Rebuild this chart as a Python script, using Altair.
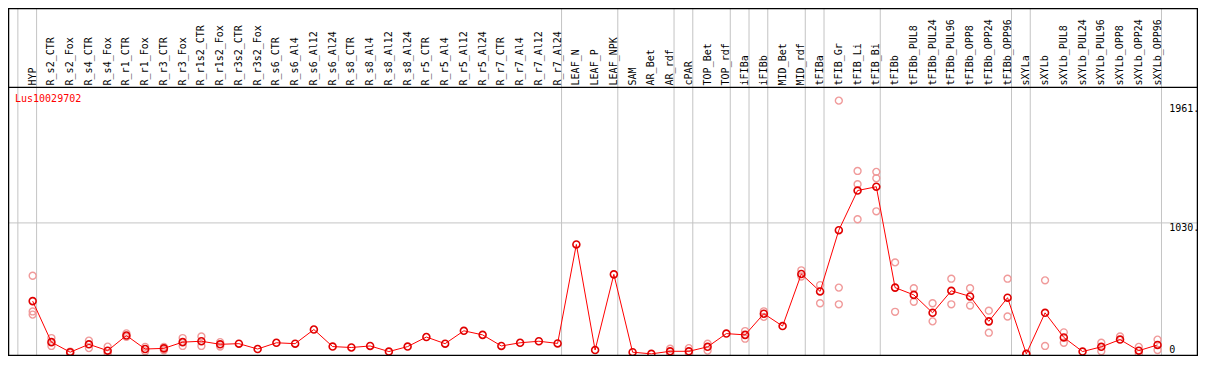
import altair as alt
import pandas as pd

categories = ["HYP", "R_s2_CTR", "R_s2_Fox", "R_s4_CTR", "R_s4_Fox", "R_r1_CTR", "R_r1_Fox",
              "R_r3_CTR", "R_r3_Fox", "R_r1s2_CTR", "R_r1s2_Fox", "R_r3s2_CTR", "R_r3s2_Fox",
              "R_s6_CTR", "R_s6_Al4", "R_s6_Al12", "R_s6_Al24", "R_s8_CTR", "R_s8_Al4",
              "R_s8_Al12", "R_s8_Al24", "R_r5_CTR", "R_r5_Al4", "R_r5_Al12", "R_r5_Al24",
              "R_r7_CTR", "R_r7_Al4", "R_r7_Al12", "R_r7_Al24", "LEAF_N", "LEAF_P", "LEAF_NPK",
              "SAM", "AR_Bet", "AR_rdf", "cPAR", "TOP_Bet", "TOP_rdf", "iFIBa", "iFIBb",
              "MID_Bet", "MID_rdf", "tFIBa", "tFIB_Gr", "tFIB_Li", "tFIB_Bi", "tFIBb",
              "tFIBb_PUL8", "tFIBb_PUL24", "tFIBb_PUL96", "tFIBb_OPP8", "tFIBb_OPP24",
              "tFIBb_OPP96", "sXYLa", "sXYLb", "sXYLb_PUL8", "sXYLb_PUL24", "sXYLb_PUL96",
              "sXYLb_OPP8", "sXYLb_OPP24", "sXYLb_OPP96"]

means = [416, 94, 15, 77, 27, 146, 40, 45, 94, 101, 77, 82, 40, 89, 82, 193, 59, 52, 64,
         20, 59, 134, 82, 183, 151, 64, 89, 101, 84, 861, 32, 626, 15, 2, 22, 22, 57, 161,
         151, 317, 220, 629, 492, 973, 1284, 1314, 522, 465, 324, 497, 453, 257, 443, 2,
         324, 131, 20, 57, 114, 27, 72]

replicates = {
    "HYP": [615, 335, 310], "R_s2_CTR": [126, 64], "R_s2_Fox": [20, 8],
    "R_s4_CTR": [106, 47], "R_s4_Fox": [59, 5], "R_r1_CTR": [163, 135],
    "R_r1_Fox": [57, 22], "R_r3_CTR": [57, 30], "R_r3_Fox": [126, 64],
    "R_r1s2_CTR": [138, 64], "R_r1s2_Fox": [94, 59], "AR_rdf": [42, 2],
    "cPAR": [47, 2], "TOP_Bet": [82, 27], "iFIBa": [181, 121], "iFIBb": [336, 292],
    "MID_rdf": [658, 609], "tFIBa": [542, 399], "tFIB_Gr": [1990, 522, 391],
    "tFIB_Li": [1438, 1334, 1059], "tFIB_Bi": [1431, 1381, 1121], "tFIBb": [720, 332],
    "tFIBb_PUL8": [517, 411], "tFIBb_PUL24": [399, 257], "tFIBb_PUL96": [592, 391],
    "tFIBb_OPP8": [517, 381], "tFIBb_OPP24": [341, 168], "tFIBb_OPP96": [592, 295],
    "sXYLa": [2], "sXYLb": [579, 64], "sXYLb_PUL8": [171, 89], "sXYLb_PUL96": [89, 22],
    "sXYLb_OPP8": [139], "sXYLb_OPP24": [57, 2], "sXYLb_OPP96": [114, 32],
}

separators_after = [0, 1, 29, 32, 35, 36, 38, 39, 40, 42, 43, 46, 53, 54, 61]
tick_values = [1961, 1030, 0]
tick_labels = ["1961.", "1030.", "0"]
gene = "Lus10029702"

# ---- layout ----
W, H = 1190, 348
FONT = "DejaVu Sans Mono"
x_dom = [-0.316, 63.158]
y_dom = [-14.85, 2717.2]
header_px = 84 / 368 * H

xs = alt.Scale(domain=x_dom, nice=False, zero=False)
ys = alt.Scale(domain=y_dom, nice=False, zero=False)

mean_df = pd.DataFrame({"idx": list(range(1, len(categories) + 1)),
                        "cat": categories, "value": means})
rep_rows = []
for i, c in enumerate(categories, start=1):
    for v in replicates.get(c, []):
        rep_rows.append({"idx": i, "cat": c, "value": v})
rep_df = pd.DataFrame(rep_rows)
sep_df = pd.DataFrame({"pos": [k + 0.21 for k in separators_after]})
tick_df = pd.DataFrame({"value": tick_values, "label": tick_labels,
                        "pos": [61.62] * len(tick_values)})

X = alt.X("idx:Q", scale=xs, axis=None)
Y = alt.Y("value:Q", scale=ys, axis=None)

seps = alt.Chart(sep_df).mark_rule(color="#c4c4c4", strokeWidth=1).encode(
    x=alt.X("pos:Q", scale=xs, axis=None), y=alt.value(0), y2=alt.value(H))

grid = alt.Chart(pd.DataFrame({"value": [1030]})).mark_rule(
    color="#c4c4c4", strokeWidth=1).encode(y=Y, x=alt.value(0), x2=alt.value(W))

header = alt.Chart(pd.DataFrame({"v": [0]})).mark_rule(
    color="black", strokeWidth=1.2).encode(
    y=alt.value(header_px), x=alt.value(0), x2=alt.value(W))

frame = alt.Chart(pd.DataFrame({"v": [0]})).mark_rect(
    filled=False, stroke="black", strokeWidth=1.5, fillOpacity=0).encode(
    x=alt.value(0.5), x2=alt.value(W - 0.5), y=alt.value(0.5), y2=alt.value(H - 0.5))

labels = alt.Chart(mean_df).mark_text(
    angle=270, align="left", baseline="middle", font=FONT, fontSize=10,
    color="black", dx=2).encode(
    x=X, y=alt.value(header_px), text="cat:N")

reps = alt.Chart(rep_df).mark_point(
    shape="circle", filled=False, color="#f09a9a", size=48, strokeWidth=1.4,
    opacity=1).encode(x=X, y=Y)

line = alt.Chart(mean_df).mark_line(color="#ff0000", strokeWidth=1).encode(
    x=X, y=Y, order="idx:Q")

pts = alt.Chart(mean_df).mark_point(
    shape="circle", filled=False, color="#e00000", size=48, strokeWidth=1.6,
    opacity=1).encode(x=X, y=Y)

ticks_top = alt.Chart(tick_df[tick_df["value"] > 0]).mark_text(
    align="left", baseline="top", font=FONT, fontSize=10, color="black", dy=0).encode(
    x=alt.X("pos:Q", scale=xs, axis=None), y=Y, text="label:N")

ticks_zero = alt.Chart(tick_df[tick_df["value"] == 0]).mark_text(
    align="left", baseline="alphabetic", font=FONT, fontSize=10, color="black",
    dy=-1).encode(
    x=alt.X("pos:Q", scale=xs, axis=None), y=Y, text="label:N")

title = alt.Chart(pd.DataFrame({"t": [gene]})).mark_text(
    align="left", baseline="middle", font=FONT, fontSize=10, color="#ff0000").encode(
    x=alt.value(7), y=alt.value(header_px + 12), text="t:N")

chart = alt.layer(seps, grid, header, labels, reps, line, pts, ticks_top, ticks_zero,
                  title, frame).properties(
    width=W, height=H,
    autosize=alt.AutoSizeParams(type="none"),
    padding={"left": 0, "top": 0, "right": 0, "bottom": 0},
).configure_view(stroke=None).configure(background="white")

chart.save("out.html", embed_options={"renderer": "svg", "actions": False})
